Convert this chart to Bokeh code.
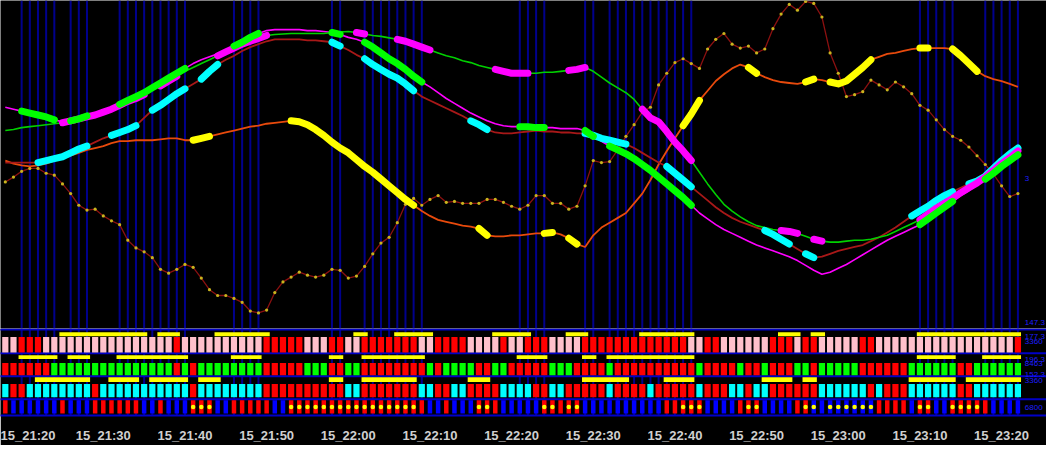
from bokeh.plotting import figure
from bokeh.layouts import column
from bokeh.models import Range1d, FixedTicker
from bokeh.embed import file_html
from bokeh.resources import INLINE
from bokeh.core.properties import value

# ---------------- data ----------------
# one bar / point per minute, 15_21:18 .. 15_23:22
minutes = list(range(125))
tick_minutes = [2, 12, 22, 32, 42, 52, 62, 72, 82, 92, 102, 112, 122]
tick_labels = ["15_21:20", "15_21:30", "15_21:40", "15_21:50", "15_22:00", "15_22:10",
               "15_22:20", "15_22:30", "15_22:40", "15_22:50", "15_23:00", "15_23:10", "15_23:20"]

# main-panel series (screen-level units, 3 = top of panel, 341 = bottom)
line_a = [137, 136, 134, 133, 132, 131, 130, 129, 127, 125, 123, 121, 118, 115, 111, 107, 104, 100, 95, 91,
          86, 81, 76, 72, 68, 64, 60, 56, 52, 48, 45, 42, 39, 38, 37.5, 37, 37, 37, 37, 37,
          36, 35.5, 35, 36, 37.5, 39, 40, 41.5, 43, 45, 48, 51, 54, 57, 60, 62, 65, 67, 70, 72,
          74, 76, 78, 78, 78, 78, 77, 77, 76, 75, 74, 72, 76, 82, 88, 93, 98, 105, 115, 124,
          128, 138, 149, 158, 168, 180, 192, 203, 213, 220, 226, 231, 235, 237, 239, 240, 241, 243, 246, 249,
          251, 252, 252, 251, 250, 250, 249, 247, 245, 241, 237, 233, 229, 223, 217, 212, 207, 201, 196, 191,
          185, 178, 171, 165, 158]
line_b = [113, 115, 117, 119, 121, 123, 126, 128, 127, 125, 122, 119, 116, 113, 110, 106, 102, 98, 93, 88,
          83, 78, 73, 68, 64, 61, 58, 54, 50, 46, 41, 37, 34, 33, 33, 33, 33, 34, 34, 35,
          36, 38, 41, 43, 46, 51, 57, 63, 68, 74, 81, 87, 92, 98, 104, 109, 114, 119, 123, 127,
          130, 132, 133, 133, 133, 134, 134, 134, 135, 135, 135, 137, 143, 148, 153, 157, 161, 166, 172, 178,
          185, 192, 199, 206, 214, 222, 228, 234, 239, 243, 247, 251, 255, 258, 261, 264, 267, 271, 276, 281,
          285, 283, 279, 275, 270, 265, 260, 255, 250, 246, 242, 238, 234, 228, 222, 216, 210, 204, 199, 193,
          187, 181, 174, 168, 162]
line_c = [170, 170, 170, 170, 170, 168, 166, 164, 160, 156, 153, 149, 145, 142, 139, 136, 132, 124, 116, 111,
          105, 99, 94, 89, 84, 76, 69, 64, 60, 55, 51, 48, 45, 43, 43, 43, 43, 44, 44, 45,
          46, 50, 54, 59, 63, 69, 74, 79, 83, 89, 96, 102, 106, 110, 114, 118, 122, 127, 131, 136,
          139, 140, 140, 139, 138, 137, 138, 138, 139, 139, 140, 140, 142, 145, 147, 149, 151, 155, 160, 165,
          170, 174, 181, 188, 195, 202, 209, 216, 222, 227, 231, 234, 237, 240, 244, 249, 254, 259, 264, 268,
          267, 264, 261, 259, 257, 255, 251, 247, 242, 237, 231, 225, 220, 215, 209, 204, 200, 196, 192, 189,
          184, 176, 168, 161, 155]
line_d = [168, 171, 173, 174, 173, 171, 168, 165, 163, 160, 157, 155, 153, 150, 148, 148, 147, 147, 147, 146,
          145, 145, 147, 147, 145, 143, 141, 139, 137, 135, 133, 132, 130, 129, 128, 127, 128, 131, 136, 142,
          149, 155, 160, 167, 174, 180, 187, 194, 201, 208, 214, 220, 225, 229, 231, 233, 235, 236, 238, 245,
          246, 246, 245, 245, 244, 243, 243, 242, 244, 248, 254, 257, 245, 237, 232, 227, 222, 212, 202, 188,
          172, 158, 145, 132, 120, 106, 96, 86, 79, 73, 69, 72, 78, 82, 85, 87, 88, 89, 87, 84,
          85, 87, 89, 86, 79, 72, 64, 61, 58, 57, 55, 53, 52, 52, 52, 52, 53, 60, 68, 76,
          81, 84, 86, 89, 92]
line_e = [190, 185, 179, 176, 176, 181, 183, 192, 202, 214, 219, 218, 225, 230, 234, 250, 258, 262, 268, 280,
          284, 280, 275, 278, 289, 301, 307, 307, 310, 314, 323, 325, 322, 304, 293, 288, 283, 286, 288, 286,
          280, 281, 289, 287, 277, 264, 253, 247, 232, 213, 207, 214, 208, 204, 211, 210, 212, 212, 212, 208,
          208, 211, 215, 218, 214, 204, 204, 212, 212, 218, 215, 194, 168, 170, 169, 157, 143, 131, 118, 113,
          90, 78, 67, 63, 68, 73, 53, 43, 37, 48, 52, 50, 57, 53, 32, 17, 7, 13, 4, 6,
          20, 57, 78, 102, 100, 97, 85, 90, 95, 87, 92, 99, 111, 116, 126, 136, 143, 147, 154, 163,
          172, 182, 194, 205, 202]

# minute ranges where each line is drawn thick (also marked in the lower rows)
thick_a = [(7, 17), (19, 21), (26, 32), (43, 44), (48, 52), (60, 64), (69, 71), (78, 84), (95, 97),
           (99, 100), (112, 124)]
thick_b = [(2, 6), (8, 10), (14, 22), (28, 31), (40, 41), (44, 51), (63, 66), (71, 72), (74, 84),
           (112, 116), (120, 124)]
thick_c = [(4, 10), (13, 16), (18, 22), (24, 26), (40, 41), (44, 50), (57, 59), (71, 76), (81, 84),
           (93, 96), (98, 99), (111, 116), (118, 124)]
thick_d = [(23, 25), (35, 50), (58, 59), (66, 67), (69, 70), (83, 85), (91, 92), (98, 99), (101, 106),
           (112, 113), (116, 119)]

# lower-panel state rows, run-length encoded (state, number of minutes)
row1_runs = [("P", 2), ("R", 3), ("P", 16), ("R", 1), ("P", 10), ("R", 5), ("P", 3), ("R", 2), ("P", 2),
             ("R", 7), ("P", 2), ("R", 4), ("P", 4), ("R", 1), ("P", 2), ("R", 3), ("P", 4), ("R", 13),
             ("P", 2), ("R", 2), ("P", 6), ("R", 3), ("P", 1), ("R", 2), ("P", 5), ("R", 2), ("P", 17), ("R", 1)]
row2_runs = [("R", 6), ("G", 15), ("R", 1), ("G", 1), ("R", 1), ("G", 8), ("R", 5), ("G", 3), ("R", 2),
             ("G", 2), ("R", 8), ("G", 1), ("R", 1), ("G", 4), ("R", 2), ("G", 2), ("R", 5), ("G", 3),
             ("R", 4), ("G", 1), ("R", 10), ("G", 1), ("R", 4), ("G", 1), ("R", 2), ("G", 1), ("R", 3),
             ("G", 2), ("R", 1), ("G", 5), ("R", 6), ("G", 6), ("R", 2), ("G", 6)]
row3_runs = [("C", 1), ("R", 2), ("C", 8), ("R", 1), ("C", 11), ("R", 1), ("C", 8), ("R", 10), ("C", 2),
             ("R", 7), ("C", 2), ("R", 2), ("C", 2), ("R", 4), ("C", 4), ("R", 2), ("C", 2), ("R", 5),
             ("C", 1), ("R", 4), ("C", 1), ("R", 5), ("C", 1), ("R", 3), ("C", 2), ("R", 1), ("C", 2),
             ("R", 6), ("C", 6), ("R", 1), ("C", 1), ("R", 3), ("C", 6), ("R", 2), ("C", 6)]
row4_runs = [("R", 1), ("B", 6), ("R", 1), ("B", 3), ("R", 6), ("B", 2), ("R", 1), ("B", 3), ("R", 3),
             ("B", 2), ("R", 5), ("B", 2), ("R", 17), ("B", 2), ("R", 1), ("B", 3), ("R", 3), ("B", 5),
             ("R", 5), ("B", 10), ("R", 5), ("B", 4), ("R", 3), ("B", 4), ("R", 2), ("B", 8), ("R", 4),
             ("B", 1), ("R", 2), ("B", 2), ("R", 5), ("B", 4)]

right_labels_main = ["3", "147.3"]
right_labels_low = ["177.3", "3360", "196.3", "8463", "152.3", "3360", "6800"]

# ---------------- styles / layout ----------------
PALETTE = {"P": "#ffc0cb", "R": "#ff0000", "G": "#00ff00", "C": "#00ffff", "B": "#0000ff"}
NAVY = "#00008c"
BLUE = "#0000c8"
W = 1046
X_RANGE = Range1d(-0.59, 127.5)


def expand(runs):
    out = []
    for s, n in runs:
        out += [s] * n
    return out


def seg(series, ranges):
    xs, ys = [], []
    for a, b in ranges:
        xs.append(minutes[a:b + 1])
        ys.append(series[a:b + 1])
    return xs, ys


vlines = sorted({m for a, b in thick_b for m in range(a, b + 1)})

p1 = figure(width=W, height=328, x_range=X_RANGE, y_range=Range1d(341, 3),
            x_axis_location=None, y_axis_location=None, output_backend="svg",
            toolbar_location=None, background_fill_color="black", border_fill_color="black",
            min_border=0, outline_line_color=None)
p1.grid.visible = False

p1.segment(x0=vlines, x1=vlines, y0=[341] * len(vlines), y1=[3] * len(vlines),
           line_color=NAVY, line_width=2)

# thin lines
p1.line(minutes, line_e, line_color="#8b1010", line_width=1.3)
p1.scatter(minutes, line_e, size=3.2, fill_color="#c8b41e", line_color=None)
p1.line(minutes, line_d, line_color="#e84a0c", line_width=1.8)
p1.line(minutes, line_c, line_color="#a81818", line_width=1.8)
p1.line(minutes, line_b, line_color="#ff00ff", line_width=1.6)
p1.line(minutes, line_a, line_color="#00d000", line_width=1.6)

# thick segments
for series, ranges, col in [(line_d, thick_d, "#ffff00"), (line_c, thick_c, "#00ffff"),
                            (line_a, thick_a, "#ff00ff"), (line_b, thick_b, "#00ff00")]:
    xs, ys = seg(series, ranges)
    p1.multi_line(xs, ys, line_color=col, line_width=7, line_cap="round", line_join="round")

p1.text(x=[124.85, 124.85], y=[186, 335], text=right_labels_main, text_color="#1e1eff",
        text_font=value("Liberation Sans"), text_font_size="8px", text_baseline="middle")

# ---------------- lower panel ----------------
p2 = figure(width=W, height=117, x_range=X_RANGE, y_range=Range1d(432, 341),
            y_axis_location=None, output_backend="svg", toolbar_location=None,
            background_fill_color="black", border_fill_color="black",
            min_border=0, min_border_bottom=28, outline_line_color=None)
p2.grid.visible = False

p2.segment(x0=vlines, x1=vlines, y0=[432] * len(vlines), y1=[341] * len(vlines),
           line_color=NAVY, line_width=2)
for yy in [342, 367, 391, 415]:
    p2.segment(x0=[-1], x1=[128], y0=[yy], y1=[yy], line_color=BLUE, line_width=2)

rows = [(row1_runs, 350, 366, 0.76), (row2_runs, 377, 390, 0.76), (row3_runs, 399, 413, 0.76),
        (row4_runs, 416, 430, 0.55)]
for runs, top, bot, w in rows:
    cols = [PALETTE[s] for s in expand(runs)]
    p2.vbar(x=minutes, top=top, bottom=bot, width=w, fill_color=cols, line_color=None)

for ranges, top, bot in [(thick_a, 345, 349), (thick_b, 369, 373), (thick_c, 392, 397)]:
    p2.quad(left=[a - 0.38 for a, b in ranges], right=[b + 0.38 for a, b in ranges],
            top=top, bottom=bot, fill_color="#ffff00", line_color=None)

dots = [m for a, b in thick_d for m in range(a, b + 1)]
p2.scatter(dots, [423] * len(dots), size=4.5, fill_color="#ffff00", line_color=None)

p2.text(x=[124.85] * 7, y=[349, 355, 373, 378, 389, 395, 424], text=right_labels_low,
        text_color="#1e1eff", text_font=value("Liberation Sans"), text_font_size="8px",
        text_baseline="middle")

ax = p2.xaxis[0]
ax.ticker = FixedTicker(ticks=tick_minutes)
ax.major_label_overrides = {m: lab for m, lab in zip(tick_minutes, tick_labels)}
ax.axis_line_color = BLUE
ax.axis_line_width = 2
ax.major_tick_line_color = None
ax.minor_tick_line_color = None
ax.major_label_text_color = "#d0d0d0"
ax.major_label_text_font = "Liberation Sans"
ax.major_label_text_font_size = "13px"
ax.major_label_text_font_style = "bold"
ax.major_label_standoff = 6

layout = column(p1, p2, spacing=0)
open("out.html", "w").write(file_html(layout, INLINE))
